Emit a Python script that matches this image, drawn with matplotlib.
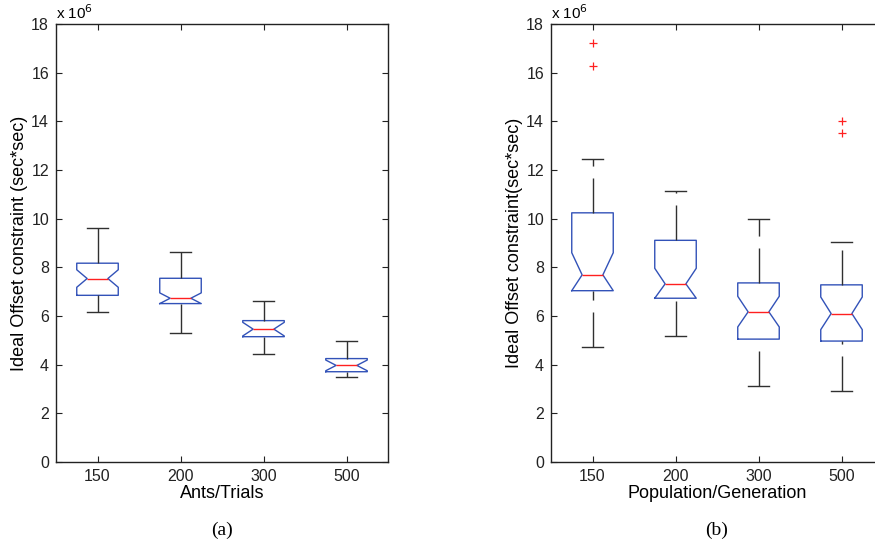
import matplotlib
matplotlib.use("Agg")
import matplotlib.pyplot as plt

plt.rcParams['font.family'] = ['Liberation Sans', 'DejaVu Sans']
plt.rcParams['lines.scale_dashes'] = False

categories_a = ['150', '200', '300', '500']
categories_b = ['150', '200', '300', '500']

# Panel (a): values in units of 1e6
a_whislo = [6.15, 5.30, 4.43, 3.49]
a_q1 = [6.85, 6.51, 5.15, 3.71]
a_med = [7.54, 6.73, 5.46, 3.97]
a_q3 = [8.17, 7.55, 5.81, 4.25]
a_whishi = [9.61, 8.61, 6.62, 4.98]
a_cilo = [7.18, 6.51, 5.18, 3.75]
a_cihi = [7.90, 6.95, 5.74, 4.19]
a_fliers = [[], [], [], []]

# Panel (b)
b_whislo = [4.74, 5.19, 3.12, 2.90]
b_q1 = [7.04, 6.73, 5.05, 4.97]
b_med = [7.69, 7.32, 6.17, 6.10]
b_q3 = [10.24, 9.11, 7.36, 7.28]
b_whishi = [12.44, 11.15, 9.98, 9.05]
b_cilo = [7.04, 6.73, 5.55, 5.44]
b_cihi = [8.60, 7.96, 6.81, 6.78]
b_fliers = [[17.2, 16.26], [], [], [14.0, 13.54]]

yticks = [0, 2, 4, 6, 8, 10, 12, 14, 16, 18]

BLUE = '#3252b8'
RED = '#ff2020'
DARK = '#303030'


def make_stats(lo, q1, med, q3, hi, cilo, cihi, fliers):
    stats = []
    for i in range(len(med)):
        stats.append(dict(whislo=lo[i], q1=q1[i], med=med[i], q3=q3[i],
                          whishi=hi[i], cilo=cilo[i], cihi=cihi[i],
                          fliers=fliers[i]))
    return stats


fig = plt.figure(figsize=(8.75, 5.56), dpi=100)
W, H = 875.0, 556.0
ax_a = fig.add_axes([56 / W, (556 - 462) / H, 332 / W, 438 / H])
ax_b = fig.add_axes([551 / W, (556 - 462) / H, 332 / W, 438 / H])


def draw(ax, stats, cats, xlabel, ylabel, caption):
    bp = ax.bxp(stats, positions=[1, 2, 3, 4], widths=0.5, shownotches=True,
                boxprops=dict(color=BLUE, linewidth=1.0),
                medianprops=dict(color=RED, linewidth=1.0),
                whiskerprops=dict(color=DARK, linewidth=1.0),
                capprops=dict(color=DARK, linewidth=1.0),
                flierprops=dict(marker='+', markeredgecolor=RED, markersize=6,
                                markeredgewidth=0.9, linestyle='none'))
    wh = bp['whiskers']
    for j, line in enumerate(wh):
        xd, yd = line.get_data()
        if j % 2 == 0:  # lower whisker: draw from cap towards box
            line.set_data(list(xd)[::-1], list(yd)[::-1])
        line.set_linestyle((0, (25.2, 8.6)))
    ax.set_xlim(0.5, 4.5)
    ax.set_ylim(0, 18)
    ax.set_yticks(yticks)
    ax.set_xticks([1, 2, 3, 4])
    ax.set_xticklabels(cats)
    ax.tick_params(direction='in', top=True, right=True, length=4, width=0.8,
                   labelsize=11.5, colors='#222222', pad=5)
    for s in ax.spines.values():
        s.set_linewidth(1.0)
        s.set_color('#222222')
    ax.set_xlabel(xlabel, fontsize=13, labelpad=1)
    ax.set_ylabel(ylabel, fontsize=13)
    ax.yaxis.set_label_coords(-0.084, 0.5)
    ax.text(0.0, 1.004, r'x 10$^{6}$', transform=ax.transAxes, fontsize=11,
            ha='left', va='bottom')
    ax.text(0.5, -0.155, caption, transform=ax.transAxes, ha='center',
            va='center', fontsize=14, family=['Liberation Serif', 'DejaVu Serif'])


draw(ax_a, make_stats(a_whislo, a_q1, a_med, a_q3, a_whishi, a_cilo, a_cihi, a_fliers),
     categories_a, 'Ants/Trials', 'Ideal Offset constraint (sec*sec)', '(a)')
draw(ax_b, make_stats(b_whislo, b_q1, b_med, b_q3, b_whishi, b_cilo, b_cihi, b_fliers),
     categories_b, 'Population/Generation', 'Ideal Offset constraint(sec*sec)', '(b)')

fig.savefig('out.png', dpi=100)
